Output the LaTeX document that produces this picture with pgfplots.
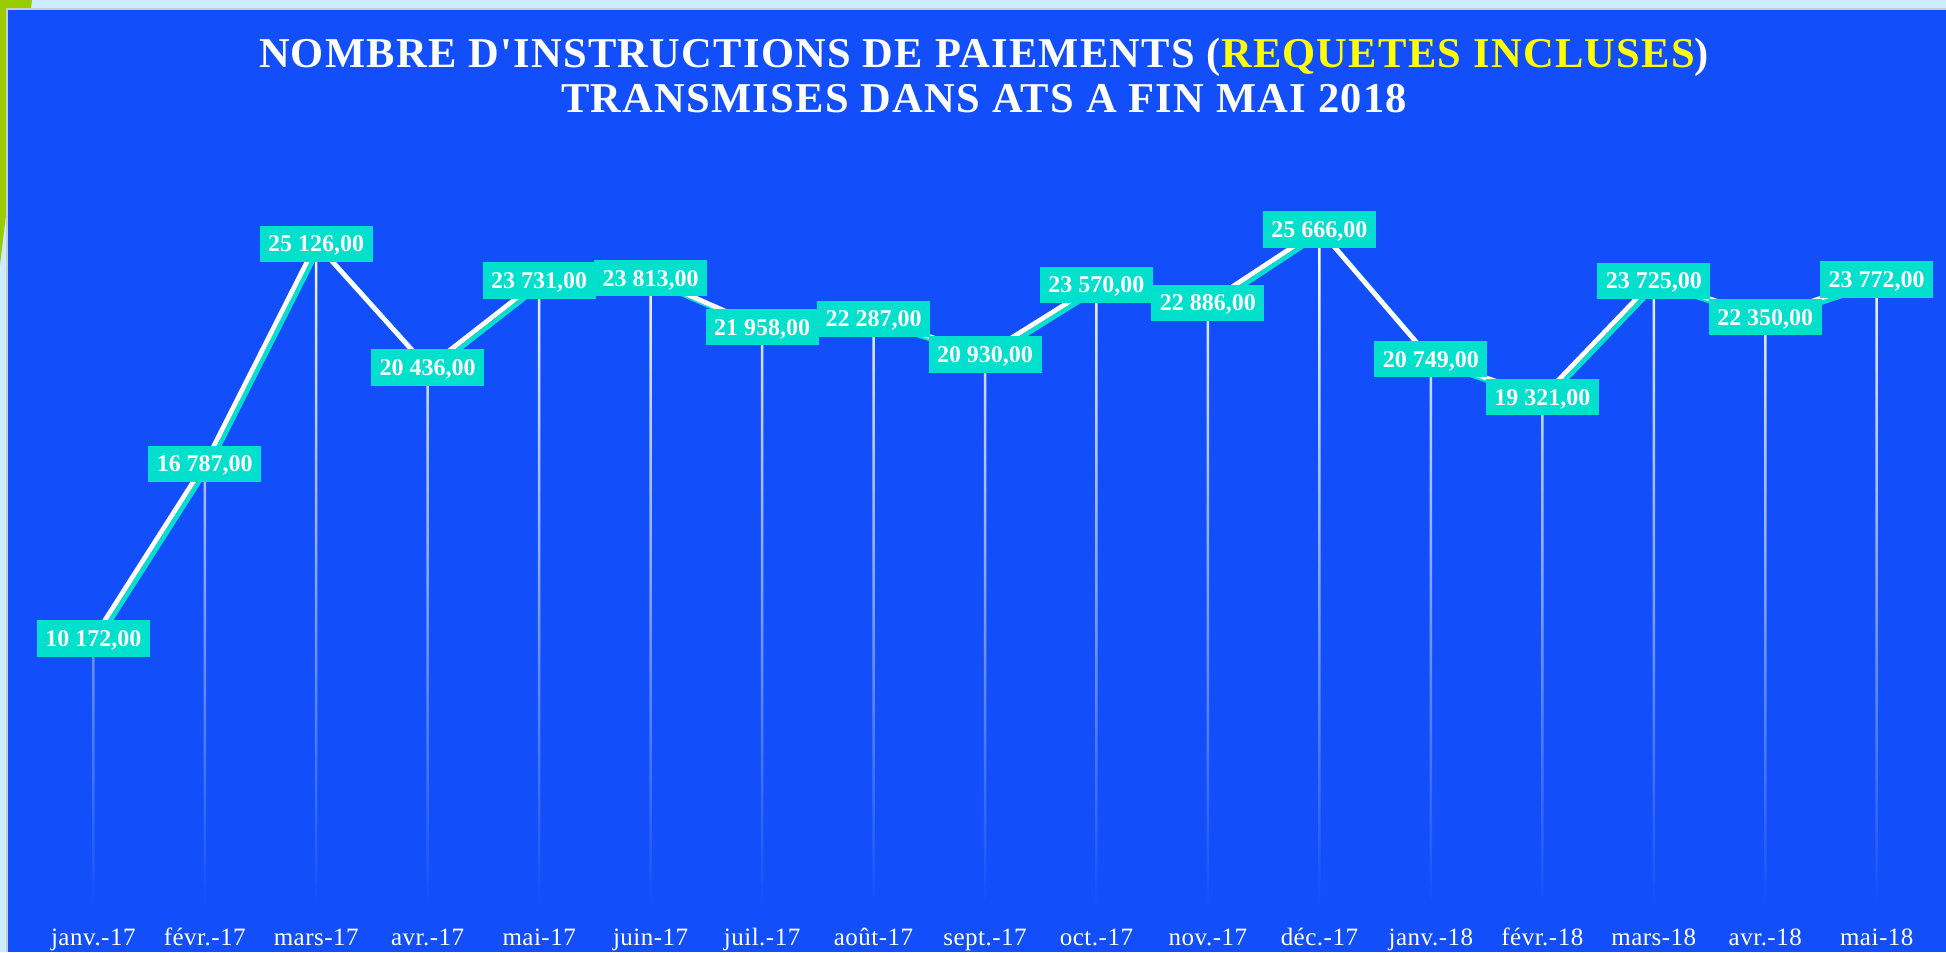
\documentclass[border=0pt]{standalone}
\usepackage{fontspec}
\setmainfont{Liberation Serif}
\newfontfamily\titlefont[LetterSpace=3]{Liberation Serif}
\newfontfamily\tickfont[LetterSpace=2]{Liberation Serif}
\usepackage{pgfplots}
\usepackage{pgfplotstable}
\pgfplotsset{compat=1.18}
\definecolor{bgblue}{RGB}{18,79,250}
\definecolor{frameblue}{RGB}{204,236,255}
\definecolor{leafgreen}{RGB}{153,204,0}
\definecolor{tealbox}{RGB}{0,224,204}
\definecolor{titleyellow}{RGB}{255,255,0}
\pgfplotstableread{
x y
0 10172
1 16787
2 25126
3 20436
4 23731
5 23813
6 21958
7 22287
8 20930
9 23570
10 22886
11 25666
12 20749
13 19321
14 23725
15 22350
16 23772
}\datatable
\begin{document}
\begin{tikzpicture}
\path[use as bounding box] (0pt,0pt) rectangle (778.4pt,-380.8pt);
\fill[frameblue] (0pt,0pt) rectangle (778.4pt,-380.8pt);
\fill[leafgreen] (0pt,0pt) -- (12.8pt,0pt) -- (0pt,-106pt) -- cycle;
\fill[bgblue] (2.8pt,-3.6pt) rectangle (778.4pt,-380.8pt);
\draw[black!20, line width=0.8pt] (2.8pt,-380.8pt) -- (2.8pt,-3.6pt) -- (778.4pt,-3.6pt);
\node[anchor=base, text=white, inner sep=0pt, font=\titlefont\bfseries\fontsize{17pt}{17pt}\selectfont] at (393.6pt,-26.8pt) {NOMBRE D'INSTRUCTIONS DE PAIEMENTS (\textcolor{titleyellow}{REQUETES INCLUSES})};
\node[anchor=base, text=white, inner sep=0pt, font=\titlefont\bfseries\fontsize{17pt}{17pt}\selectfont] at (393.6pt,-44.8pt) {TRANSMISES DANS ATS A FIN MAI 2018};
\begin{axis}[
  at={(37.32pt,-362.8pt)}, anchor=south west,
  scale only axis, width=713.36pt, height=316.8pt,
  xmin=0, xmax=16, ymin=0, ymax=30000,
  axis line style={draw=none},
  major tick length=0pt,
  ytick=\empty,
  xtick={0,...,16},
  xticklabels={janv.-17,févr.-17,mars-17,avr.-17,mai-17,juin-17,juil.-17,août-17,sept.-17,oct.-17,nov.-17,déc.-17,janv.-18,févr.-18,mars-18,avr.-18,mai-18},
  xticklabel style={font=\tickfont\fontsize{10pt}{10pt}\selectfont, text=white, anchor=base, yshift=-15.2pt},
  clip=false,
]
\addplot[ybar, bar width=1pt, draw=none, top color=white, middle color=white!88!bgblue, bottom color=bgblue] table {\datatable};
\addplot[tealbox, line width=1.8pt, xshift=1.4pt, yshift=-1.4pt, no marks] table {\datatable};
\addplot[white, line width=1.9pt, no marks] table {\datatable};
\addplot[draw=none, no marks,
  nodes near coords={\pgfmathprintnumber[fixed, fixed zerofill, precision=2, use comma, 1000 sep={\ }, assume math mode=true]{\pgfplotspointmeta}},
  nodes near coords style={fill=tealbox, text=white, anchor=center, font=\bfseries\fontsize{9.6pt}{9.6pt}\selectfont, inner xsep=3.4pt, inner ysep=4pt, text height=6.5pt, text depth=0pt}
] table {\datatable};
\end{axis}
\end{tikzpicture}
\end{document}
